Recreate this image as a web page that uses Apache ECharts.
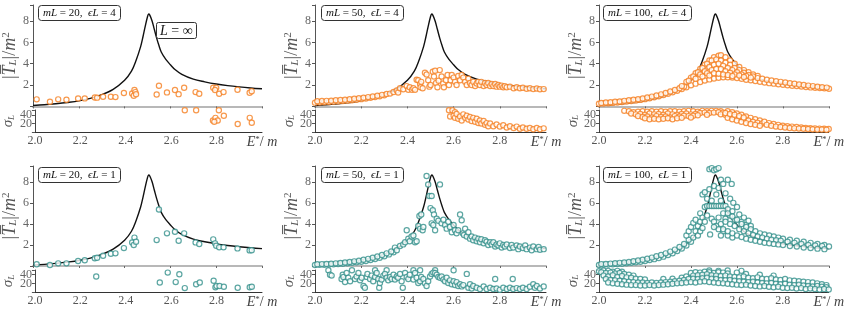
<!DOCTYPE html>
<html><head><meta charset="utf-8">
<script src="https://cdn.jsdelivr.net/npm/echarts/dist/echarts.min.js"></script>
<style>html,body{margin:0;padding:0;background:#fff}#c{width:847px;height:309px}</style>
</head><body><div id="c"></div>
<script>
// ---------- axis settings ----------
const energyMin = 2.0, energyMax = 3.0, energyStep = 0.2;
const meanMin = 0, meanMax = 9.5, meanStep = 2;
const sigmaMin = 0, sigmaMax = 51, sigmaStep = 20;

// ---------- panel labels ----------
const panelML = [20, 50, 100, 20, 50, 100];
const panelEL = [4, 4, 4, 1, 1, 1];

// ---------- L = infinity curve ----------
const infE = [2.00,2.05,2.10,2.15,2.20,2.25,2.30,2.35,2.40,2.43,2.45,2.47,2.48,2.49,2.50,2.505,2.51,2.52,2.53,2.54,2.55,2.56,2.58,2.60,2.62,2.65,2.70,2.75,2.80,2.85,2.90,2.95,3.00];
const infT = [0.08,0.15,0.25,0.37,0.52,0.75,1.1,1.6,2.45,3.3,4.3,5.6,6.5,7.5,8.4,8.65,8.55,8.0,7.2,6.4,5.7,5.1,4.4,3.9,3.45,3.0,2.55,2.3,2.1,1.95,1.83,1.73,1.65];

// ---------- mL=20, eL=4 ----------
const p1Mean = [[2.016,0.66],[2.074,0.44],[2.11,0.66],[2.146,0.62],[2.197,0.75],[2.226,0.75],[2.27,0.84],[2.28,0.82],[2.306,0.9],[2.34,0.9],[2.36,0.87],[2.397,1.25],[2.433,1.22],[2.443,1.53],[2.447,1.34],[2.44,1.0],[2.45,1.15],[2.54,1.12],[2.55,1.94],[2.585,1.31],[2.62,1.53],[2.636,1.15],[2.66,1.75],[2.71,1.34],[2.726,1.19],[2.787,1.75],[2.80,1.75],[2.795,1.53],[2.813,1.19],[2.832,1.34],[2.893,1.56],[2.946,1.28],[2.955,1.42]];
const p1Sigma = [[2.66,50.5],[2.71,50.5],[2.81,50.5],[2.784,27],[2.795,33],[2.805,27],[2.79,24],[2.832,38],[2.893,19],[2.946,33],[2.955,22]];

// ---------- mL=50, eL=4 ----------
const p2Mean = [[2.00,0.35],[2.02,0.37],[2.04,0.39],[2.06,0.41],[2.08,0.44],[2.10,0.47],[2.12,0.5],[2.14,0.54],[2.16,0.58],[2.18,0.63],[2.20,0.68],[2.22,0.74],[2.24,0.8],[2.26,0.87],[2.28,0.95],[2.30,1.04],
[2.01,0.48],[2.03,0.5],[2.05,0.52],[2.07,0.54],[2.09,0.57],[2.11,0.6],[2.13,0.63],[2.15,0.67],[2.17,0.71],[2.19,0.76],[2.21,0.81],[2.23,0.87],[2.25,0.93],[2.27,1.0],[2.29,1.08],[2.31,1.17],
[2.325,1.2],[2.34,1.35],[2.354,1.5],[2.36,1.3],[2.368,1.7],[2.382,1.6],[2.397,1.9],[2.404,1.55],[2.41,1.8],[2.42,1.55],[2.426,1.7],[2.433,1.55],
[2.44,2.5],[2.447,2.45],[2.455,2.1],[2.457,1.8],[2.46,2.3],[2.466,1.7],[2.476,3.15],[2.483,3.0],[2.49,2.45],[2.495,1.85],[2.5,2.0],[2.51,3.25],[2.515,2.8],[2.52,3.35],[2.524,2.2],[2.53,1.8],[2.535,2.4],[2.54,3.4],[2.548,2.8],[2.555,2.15],[2.558,1.8],[2.567,2.45],[2.574,2.95],[2.58,2.0],[2.587,2.45],[2.592,2.95],[2.6,2.7],[2.606,2.3],[2.613,2.0],[2.62,2.85],[2.628,2.45],[2.635,2.95],[2.642,2.7],[2.65,2.3],[2.657,2.0],[2.664,2.6],[2.671,2.2],
[2.678,2.0],[2.685,2.3],[2.693,1.9],[2.7,2.15],[2.707,2.3],[2.714,2.0],[2.72,2.3],[2.73,1.9],[2.736,2.2],[2.743,2.0],[2.75,2.2],[2.758,1.9],[2.765,2.1],[2.772,1.9],[2.78,2.1],[2.786,1.85],[2.794,2.0],[2.8,1.85],[2.808,1.95],[2.815,1.8],[2.822,1.9],[2.83,1.8],[2.844,1.85],[2.86,1.7],[2.873,1.8],[2.887,1.7],[2.9,1.75],[2.916,1.65],[2.93,1.7],[2.945,1.62],[2.96,1.68],[2.974,1.6],[2.99,1.62]];
const p2Sigma = [[2.58,50.5],[2.595,50.5],[2.606,46],[2.585,36],[2.6,38],[2.606,33],[2.613,42],[2.62,31],[2.628,36],[2.635,27],[2.642,41],[2.65,33],[2.657,38],[2.664,29],[2.671,35],[2.678,26],[2.685,33],[2.693,24],[2.7,31],[2.707,21],[2.714,27],[2.72,20],[2.73,26],[2.736,17],[2.743,21],[2.75,14],[2.758,20],[2.772,14],[2.786,18],[2.8,13],[2.815,16],[2.83,11],[2.844,14],[2.86,10],[2.873,13],[2.887,8],[2.9,11],[2.916,8],[2.93,10],[2.945,7],[2.96,10],[2.974,7],[2.99,9]];

// ---------- mL=100, eL=4 ----------
const p3Mean = [[2.00,0.25],[2.02,0.27],[2.04,0.3],[2.06,0.33],[2.08,0.37],[2.10,0.41],[2.12,0.45],[2.14,0.5],[2.16,0.55],[2.18,0.61],[2.20,0.68],[2.22,0.76],[2.24,0.85],[2.26,0.95],[2.28,1.06],[2.30,1.18],[2.32,1.32],[2.34,1.47],[2.36,1.63],[2.38,1.8],[2.40,1.97],[2.42,2.13],[2.44,2.28],[2.46,2.42],[2.48,2.53],[2.50,2.62],[2.52,2.68],[2.54,2.72],[2.56,2.72],[2.58,2.7],[2.60,2.65],[2.62,2.58],[2.64,2.5],[2.66,2.44],[2.68,2.37],[2.70,2.3],[2.72,2.24],[2.74,2.18],[2.76,2.13],[2.78,2.08],[2.80,2.03],[2.82,1.98],[2.84,1.94],[2.86,1.9],[2.88,1.86],[2.90,1.82],[2.92,1.78],[2.94,1.75],[2.96,1.72],[2.98,1.69],[3.00,1.66],
[2.01,0.33],[2.03,0.36],[2.05,0.39],[2.07,0.43],[2.09,0.47],[2.11,0.52],[2.13,0.57],[2.15,0.62],[2.17,0.68],[2.19,0.75],[2.21,0.83],[2.23,0.92],[2.25,1.02],[2.27,1.13],[2.29,1.25],[2.31,1.39],[2.33,1.54],[2.35,1.7],[2.37,1.87],
[2.36,1.9],[2.38,2.3],[2.40,2.7],[2.42,3.1],[2.44,3.5],[2.46,3.9],[2.48,4.3],[2.50,4.6],[2.52,4.75],[2.53,4.8],[2.55,4.6],[2.57,4.3],[2.59,4.0],[2.61,3.7],[2.63,3.4],[2.65,3.2],[2.67,3.0],[2.69,2.85],
[2.39,2.4],[2.41,2.8],[2.43,3.2],[2.45,3.6],[2.47,4.0],[2.49,4.3],[2.51,4.4],[2.53,4.3],[2.55,4.1],[2.57,3.9],[2.59,3.6],[2.61,3.4],[2.63,3.15],[2.65,2.95],[2.67,2.8],[2.69,2.65],
[2.42,2.6],[2.44,3.0],[2.46,3.3],[2.48,3.7],[2.50,3.9],[2.52,4.0],[2.54,3.8],[2.56,3.6],[2.58,3.4],[2.60,3.2],[2.62,3.0],[2.64,2.85],[2.66,2.7],
[2.45,2.8],[2.47,3.1],[2.49,3.4],[2.51,3.5],[2.53,3.5],[2.55,3.3],[2.57,3.15],[2.59,3.0],[2.61,2.9],[2.63,2.75],
[2.48,2.9],[2.50,3.1],[2.52,3.05],[2.54,3.0],[2.56,2.95],[2.58,2.85],
[2.71,2.6],[2.73,2.5],[2.75,2.42],[2.77,2.36],[2.79,2.3],[2.81,2.24],[2.83,2.18],[2.85,2.12],[2.87,2.06],[2.89,2.0],[2.91,1.95],[2.93,1.9],[2.95,1.85],[2.97,1.8],[2.99,1.76]];
const p3Sigma = [[2.11,49],[2.13,48],[2.15,46],[2.17,47],[2.19,48],[2.21,47],[2.23,48],[2.25,47],[2.27,48],[2.29,47],[2.31,48],[2.33,48],[2.35,47],[2.37,48],[2.39,49],[2.41,48],[2.43,47],[2.45,49],[2.47,48],[2.49,49],[2.51,49],[2.53,48],
[2.14,43],[2.16,41],[2.18,42],[2.20,40],[2.22,43],[2.24,41],[2.26,42],[2.28,40],[2.30,43],[2.32,41],[2.34,40],[2.36,42],[2.38,43],[2.40,41],[2.42,42],[2.44,44],[2.46,45],[2.48,44],[2.50,45],[2.52,46],[2.54,45],
[2.17,37],[2.19,35],[2.21,36],[2.23,34],[2.25,37],[2.27,35],[2.29,36],[2.31,34],[2.33,37],[2.35,36],[2.37,38],[2.39,37],[2.41,38],[2.43,39],[2.47,40],[2.53,41],[2.55,40],
[2.20,32],[2.22,30],[2.24,31],[2.26,30],[2.28,31],[2.30,32],[2.32,30],[2.34,32],[2.36,33],[2.40,34],
[2.56,48],[2.58,46],[2.60,43],[2.62,40],[2.64,36],[2.66,33],[2.68,30],[2.70,27],
[2.57,38],[2.59,35],[2.61,33],[2.63,30],[2.65,27],[2.67,24],[2.69,22],[2.71,20],
[2.56,33],[2.58,30],[2.60,27],[2.62,24],[2.64,21],[2.66,19],[2.68,17],[2.70,15],
[2.55,44],[2.57,42],[2.59,40],[2.61,37],[2.63,34],
[2.72,24],[2.74,21],[2.76,19],[2.78,17],[2.80,15],[2.82,14],[2.84,13],[2.86,12],[2.88,11],[2.90,10],[2.92,9.5],[2.94,9],[2.96,8.5],[2.98,8],[3.00,7.5],
[2.73,17],[2.75,15],[2.77,13],[2.79,12],[2.81,11],[2.83,10],[2.85,9],[2.87,8.5],[2.89,8],[2.91,7.5],[2.93,7],[2.95,6.5],[2.97,6.5],[2.99,6]];

// ---------- mL=20, eL=1 ----------
const p4Mean = [[2.016,0.16],[2.074,0.1],[2.11,0.25],[2.146,0.25],[2.197,0.47],[2.226,0.54],[2.27,0.73],[2.28,0.79],[2.306,0.98],[2.34,1.17],[2.36,1.2],[2.397,1.7],[2.433,2.24],[2.443,2.7],[2.44,2.0],[2.45,2.3],[2.54,2.46],[2.55,5.37],[2.585,3.1],[2.62,3.25],[2.636,2.4],[2.66,3.1],[2.71,2.24],[2.726,2.08],[2.787,2.53],[2.795,2.15],[2.80,1.93],[2.813,1.77],[2.832,1.77],[2.893,1.67],[2.946,1.48],[2.955,1.5]];
const p4Sigma = [[2.27,36],[2.55,22],[2.585,45],[2.62,23],[2.636,41],[2.66,9],[2.71,18],[2.726,22],[2.787,26],[2.795,11],[2.80,14],[2.813,14],[2.832,12],[2.893,10],[2.946,11],[2.955,12]];

// ---------- mL=50, eL=1 ----------
const p5Mean = [[2.00,0.1],[2.02,0.11],[2.04,0.12],[2.06,0.14],[2.08,0.16],[2.10,0.19],[2.12,0.22],[2.14,0.26],[2.16,0.3],[2.18,0.35],[2.20,0.41],[2.22,0.48],[2.24,0.57],[2.26,0.67],[2.28,0.79],[2.30,0.93],[2.32,1.1],[2.34,1.3],
[2.01,0.16],[2.03,0.18],[2.05,0.2],[2.07,0.22],[2.09,0.25],[2.11,0.29],[2.13,0.33],[2.15,0.38],[2.17,0.44],[2.19,0.51],[2.21,0.59],[2.23,0.68],[2.25,0.78],[2.27,0.9],[2.29,1.04],[2.31,1.2],[2.33,1.38],
[2.346,1.75],[2.354,1.5],[2.368,1.9],[2.382,2.05],[2.39,2.25],[2.397,3.4],[2.404,2.6],[2.41,2.35],[2.418,2.8],[2.426,2.9],[2.433,2.25],[2.44,2.35],[2.447,3.8],[2.455,3.55],[2.452,4.75],[2.46,4.9],[2.466,3.4],[2.469,3.7],[2.483,8.55],[2.49,7.75],[2.495,6.65],[2.505,6.65],[2.5,5.5],[2.51,5.3],[2.505,4.05],[2.512,3.9],[2.52,3.4],[2.515,4.9],[2.527,4.5],[2.534,4.3],[2.541,7.75],[2.548,4.05],[2.556,4.4],[2.563,3.9],[2.57,3.55],[2.577,4.2],[2.584,3.7],[2.592,3.2],[2.6,3.9],[2.606,3.4],[2.613,3.1],[2.62,3.4],[2.628,4.9],[2.635,4.35],[2.64,3.1],[2.645,2.95],[2.65,3.55],[2.657,2.8],[2.664,3.2],[2.671,2.6],
[2.678,2.8],[2.685,2.45],[2.693,2.7],[2.7,2.35],[2.707,2.6],[2.714,2.25],[2.72,2.55],[2.73,2.15],[2.736,2.45],[2.743,2.3],[2.75,2.0],[2.758,2.25],[2.765,2.05],[2.772,2.25],[2.78,1.85],[2.786,2.05],[2.794,1.95],[2.8,2.15],[2.808,1.75],[2.815,2.0],[2.822,1.85],[2.83,2.05],[2.844,1.7],[2.851,2.0],[2.858,1.75],[2.873,1.95],[2.88,1.6],[2.887,1.85],[2.9,1.7],[2.91,1.95],[2.916,1.6],[2.93,1.75],[2.938,1.5],[2.945,1.85],[2.96,1.6],[2.968,1.8],[2.974,1.55],[2.99,1.6]];
const p5Sigma = [[2.058,50.5],[2.16,50.5],[2.26,50.5],[2.31,50.5],[2.426,50.5],[2.455,50.5],[2.52,50.5],[2.6,50.5],
[2.065,40],[2.072,38],[2.115,30],[2.12,40],[2.123,35],[2.13,23],[2.137,44],[2.144,33],[2.152,25],[2.173,30],[2.18,36],[2.188,44],[2.195,27],[2.202,33],[2.21,14],[2.216,10],[2.224,35],[2.227,42],[2.238,30],[2.245,38],[2.252,25],[2.26,35],[2.267,44],[2.274,30],[2.278,10],[2.281,21],[2.288,29],[2.296,38],[2.303,42],[2.31,33],[2.317,27],[2.325,35],[2.332,30],[2.34,40],[2.346,29],[2.354,36],[2.36,33],[2.368,42],[2.375,25],[2.38,10],[2.39,44],[2.397,35],[2.404,30],[2.41,40],[2.426,29],[2.433,44],[2.44,33],[2.447,21],[2.455,25],[2.46,35],[2.469,30],[2.476,20],[2.483,14],[2.49,25],[2.498,36],[2.505,42],[2.512,45],[2.52,44],[2.527,40],[2.534,35],[2.541,33],[2.548,36],[2.556,29],[2.563,25],[2.57,33],[2.577,21],[2.584,27],[2.592,18],[2.6,25],[2.606,16],[2.613,23],[2.62,14],[2.628,18],[2.635,13],[2.642,16],[2.657,42],[2.664,10],[2.671,18],[2.678,8],[2.685,14],[2.7,10],[2.714,7],[2.73,13],[2.743,7],[2.758,10],[2.772,7],[2.78,30],[2.786,8],[2.8,5],[2.815,10],[2.83,7],[2.844,10],[2.856,30],[2.858,7],[2.873,9],[2.887,7],[2.9,10],[2.916,7],[2.93,12],[2.945,18],[2.952,10],[2.96,14],[2.974,8],[2.99,13]];

// ---------- mL=100, eL=1 ----------
const p6Mean = [[2.00,0.1],[2.02,0.12],[2.04,0.14],[2.06,0.16],[2.08,0.19],[2.10,0.22],[2.12,0.26],[2.14,0.3],[2.16,0.35],[2.18,0.41],[2.20,0.48],[2.22,0.56],[2.24,0.65],[2.26,0.76],[2.28,0.89],[2.30,1.04],[2.32,1.21],[2.34,1.42],[2.36,1.66],[2.38,1.95],[2.40,2.3],
[2.01,0.18],[2.03,0.2],[2.05,0.23],[2.07,0.26],[2.09,0.3],[2.11,0.34],[2.13,0.39],[2.15,0.45],[2.17,0.52],[2.19,0.6],[2.21,0.69],[2.23,0.8],[2.25,0.92],[2.27,1.05],[2.29,1.2],[2.31,1.37],[2.33,1.56],[2.35,1.8],[2.37,2.1],[2.39,2.5],
[2.38,2.9],[2.39,3.3],[2.40,3.7],[2.41,2.7],[2.41,4.1],[2.42,3.3],[2.42,4.4],[2.43,2.9],[2.43,3.8],[2.44,5.0],[2.44,4.2],[2.44,3.3],[2.45,4.6],[2.45,3.6],[2.45,6.8],[2.46,7.0],[2.46,5.6],[2.46,4.2],[2.47,6.4],[2.47,4.8],[2.47,5.7],[2.48,9.2],[2.48,7.3],[2.48,5.7],[2.483,3.0],[2.49,9.3],[2.49,6.2],[2.49,5.7],[2.49,4.5],[2.50,9.1],[2.50,7.6],[2.50,5.7],[2.50,4.2],[2.51,9.2],[2.51,6.8],[2.51,5.7],[2.51,3.8],[2.52,9.3],[2.52,7.4],[2.52,5.7],[2.52,4.6],[2.53,8.2],[2.53,6.2],[2.53,5.7],[2.53,4.0],[2.54,7.8],[2.54,5.0],[2.54,5.7],[2.55,6.9],[2.55,5.7],[2.55,4.5],[2.56,8.2],[2.56,5.4],[2.57,6.4],[2.57,4.8],[2.577,7.8],[2.584,6.0],[2.58,5.2],[2.59,4.4],[2.60,5.6],[2.61,4.9],[2.62,4.2],[2.63,4.6],[2.64,3.9],[2.65,4.3],[2.66,3.8],[2.54,3.3],[2.52,3.5],[2.50,3.7],[2.53,2.9],[2.56,2.9],[2.58,2.7],
[2.56,5.0],[2.58,4.7],[2.60,4.4],[2.62,4.0],[2.64,3.7],[2.66,3.5],[2.68,3.3],[2.70,3.1],[2.72,3.0],[2.74,2.9],[2.76,2.8],[2.78,2.7],[2.80,2.6],[2.83,2.5],[2.86,2.4],[2.89,2.3],[2.92,2.2],[2.95,2.1],[2.98,2.0],
[2.55,4.2],[2.57,4.0],[2.59,3.8],[2.61,3.5],[2.63,3.3],[2.65,3.1],[2.67,2.95],[2.69,2.8],[2.71,2.7],[2.73,2.6],[2.75,2.5],[2.77,2.45],[2.79,2.4],[2.82,2.3],[2.85,2.2],[2.88,2.1],[2.91,2.0],[2.94,1.95],[2.97,1.9],[3.00,1.85],
[2.54,3.5],[2.56,3.3],[2.58,3.1],[2.60,2.9],[2.62,2.75],[2.64,2.6],[2.66,2.5],[2.68,2.4],[2.70,2.3],[2.72,2.2],[2.74,2.15],[2.76,2.1],[2.78,2.05],[2.80,2.0],[2.83,1.9],[2.86,1.85],[2.89,1.75],[2.92,1.7],[2.95,1.65],[2.98,1.6]];
const p6Sigma = [[2.00,48],[2.02,50],[2.04,49],[2.06,47],[2.08,49],[2.10,47],[2.48,50],[2.52,49],[2.56,50],[2.62,49],
[2.01,46],[2.03,44],[2.05,45],[2.07,43],[2.09,44],[2.11,42],[2.13,40],[2.15,38],[2.40,44],[2.42,46],[2.44,45],[2.46,47],[2.48,46],[2.50,44],[2.52,46],[2.54,45],[2.56,43],[2.60,45],[2.64,42],[2.70,40],[2.76,38],
[2.02,38],[2.04,36],[2.06,39],[2.08,35],[2.10,37],[2.12,34],[2.14,33],[2.16,31],[2.18,30],[2.20,29],[2.28,30],[2.32,31],[2.36,33],[2.38,36],[2.41,38],[2.43,39],[2.45,40],[2.47,41],[2.49,39],[2.51,38],[2.53,37],[2.55,38],[2.57,36],[2.59,35],[2.61,34],[2.63,36],[2.65,33],[2.67,32],[2.69,34],[2.71,31],[2.73,30],[2.75,32],[2.77,29],[2.79,28],[2.81,30],[2.83,27],[2.85,26],[2.87,25],[2.89,24],[2.91,23],[2.93,22],[2.95,20],[2.97,18],[2.99,16],
[2.03,30],[2.05,28],[2.07,27],[2.09,26],[2.11,25],[2.13,24],[2.15,23],[2.17,22],[2.19,22],[2.21,21],[2.23,22],[2.25,21],[2.27,22],[2.29,23],[2.31,24],[2.33,25],[2.35,26],[2.37,28],[2.39,30],[2.41,31],[2.43,30],[2.45,32],[2.47,33],[2.49,31],[2.51,30],[2.53,28],[2.55,27],[2.57,28],[2.59,26],[2.61,25],[2.63,24],[2.65,23],[2.67,24],[2.69,22],[2.71,21],[2.73,20],[2.75,21],[2.77,19],[2.79,18],[2.81,19],[2.83,17],[2.85,16],[2.87,17],[2.89,15],[2.91,14],[2.93,13],[2.95,14],[2.97,12],[2.99,11],
[2.04,22],[2.06,20],[2.08,19],[2.10,18],[2.12,17],[2.14,16],[2.16,16],[2.18,15],[2.20,15],[2.22,16],[2.24,15],[2.26,16],[2.28,17],[2.30,18],[2.32,19],[2.34,20],[2.36,21],[2.38,22],[2.40,23],[2.42,22],[2.44,24],[2.46,25],[2.48,23],[2.50,22],[2.52,21],[2.54,20],[2.56,19],[2.58,18],[2.60,17],[2.62,16],[2.64,17],[2.66,15],[2.68,14],[2.70,13],[2.72,14],[2.74,12],[2.76,11],[2.78,12],[2.80,10],[2.82,9],[2.84,10],[2.86,8],[2.88,9],[2.90,7],[2.92,8],[2.94,7],[2.96,6],[2.98,7],[3.00,6]];

// ---------- build chart ----------
const ORANGE = '#f57e1f', TEAL = '#33908b';
const panelMean = [p1Mean, p2Mean, p3Mean, p4Mean, p5Mean, p6Mean];
const panelSigma = [p1Sigma, p2Sigma, p3Sigma, p4Sigma, p5Sigma, p6Sigma];
const panelColor = [ORANGE, ORANGE, ORANGE, TEAL, TEAL, TEAL];

const cols = [{left:33, width:229}, {left:315, width:231}, {left:599, width:230}];
const rows = [{mt:5, mh:101.4, st:110, sh:22.3}, {mt:166, mh:100, st:270, sh:23}];
const boxLeft = [38, 321, 603];
const boxTop = [5, 167];
const SERIF = '"Liberation Serif", "DejaVu Serif", serif';
const infCurve = infE.map((e, k) => [e, infT[k]]);

const grid = [], xAxis = [], yAxis = [], series = [], title = [];
for (let i = 0; i < 6; i++) {
  const r = Math.floor(i / 3), c = i % 3;
  grid.push({left: cols[c].left, top: rows[r].mt, width: cols[c].width, height: rows[r].mh});
  grid.push({left: cols[c].left, top: rows[r].st, width: cols[c].width, height: rows[r].sh});
  const baseX = {type: 'value', min: energyMin, max: energyMax, interval: energyStep, splitLine: {show: false}};
  xAxis.push(Object.assign({}, baseX, {gridIndex: 2*i,
    axisLine: {show: true, onZero: false, lineStyle: {color: '#b8b8b8', width: 2}},
    axisTick: {show: true, length: 2, lineStyle: {color: '#666'}}, axisLabel: {show: false}}));
  xAxis.push(Object.assign({}, baseX, {gridIndex: 2*i+1,
    axisLine: {show: true, onZero: false, lineStyle: {color: '#333', width: 1}},
    axisTick: {show: false},
    axisLabel: {margin: 3, color: '#555', fontFamily: SERIF, fontSize: 12,
      formatter: v => v > 2.95 ? '{e|E}{s|*}{n|/ }{e|m}' : v.toFixed(1),
      rich: {e: {fontStyle: 'italic', fontFamily: SERIF, fontSize: 14, color: '#444'},
             s: {fontFamily: SERIF, fontSize: 9, color: '#444', verticalAlign: 'top'},
             n: {fontFamily: SERIF, fontSize: 14, color: '#444'}}}}));
  yAxis.push({gridIndex: 2*i, type: 'value', min: meanMin, max: meanMax, interval: meanStep,
    splitLine: {show: false},
    axisLine: {show: true, lineStyle: {color: '#555', width: 1}},
    axisTick: {show: true, length: 3, lineStyle: {color: '#555'}},
    axisLabel: {margin: 4, color: '#666', fontFamily: SERIF, fontSize: 12, formatter: v => (v === 0 || v > 9) ? '' : String(v)},
    name: '|{t|T\u0305}{b|L}|/{t|m}{p|2}', nameLocation: 'middle', nameRotate: 90, nameGap: 11,
    nameTextStyle: {fontFamily: SERIF, fontSize: 18, color: '#555',
      rich: {t: {fontFamily: SERIF, fontStyle: 'italic', fontSize: 18, color: '#555'},
             b: {fontFamily: SERIF, fontStyle: 'italic', fontSize: 11, color: '#555', verticalAlign: 'bottom'},
             p: {fontFamily: SERIF, fontSize: 11, color: '#555', verticalAlign: 'top'}}}});
  yAxis.push({gridIndex: 2*i+1, type: 'value', min: sigmaMin, max: sigmaMax, interval: sigmaStep,
    splitLine: {show: false},
    axisLine: {show: true, lineStyle: {color: '#444', width: 1}},
    axisTick: {show: true, length: 3, lineStyle: {color: '#555'}},
    axisLabel: {margin: 3, color: '#666', fontFamily: SERIF, fontSize: 12, formatter: v => (v === 20 || v === 40) ? String(v) : ''},
    name: '{g|σ}{b|L}', nameLocation: 'middle', nameRotate: 90, nameGap: 16,
    nameTextStyle: {fontFamily: SERIF, fontSize: 14, color: '#555',
      rich: {g: {fontFamily: SERIF, fontStyle: 'italic', fontSize: 15, color: '#555'},
             b: {fontFamily: SERIF, fontStyle: 'italic', fontSize: 9, color: '#555', verticalAlign: 'bottom'}}}});
  series.push({type: 'line', xAxisIndex: 2*i, yAxisIndex: 2*i, data: infCurve, showSymbol: false, smooth: 0.35,
    lineStyle: {color: '#111', width: 1.4}, z: 2, silent: true});
  const sym = {type: 'scatter', symbol: 'circle', symbolSize: 5.2, z: 3,
    itemStyle: {color: '#fff', borderColor: panelColor[i], borderWidth: 1.2}};
  series.push(Object.assign({}, sym, {xAxisIndex: 2*i, yAxisIndex: 2*i, data: panelMean[i]}));
  series.push(Object.assign({}, sym, {xAxisIndex: 2*i+1, yAxisIndex: 2*i+1, data: panelSigma[i]}));
  title.push({left: boxLeft[c], top: boxTop[r],
    text: '{i|mL} = ' + panelML[i] + ',  {i|ϵL} = ' + panelEL[i],
    padding: [3, 5, 2, 5], borderColor: '#333', borderWidth: 1, borderRadius: 3, backgroundColor: '#fff',
    textStyle: {fontFamily: SERIF, fontSize: 11, fontWeight: 'normal', color: '#111',
      rich: {i: {fontFamily: SERIF, fontStyle: 'italic', fontSize: 11, color: '#111'}}}});
}
title.push({left: 156, top: 22, text: '{i|L} = ∞', padding: [2, 4, 1, 4],
  borderColor: '#333', borderWidth: 1, borderRadius: 2, backgroundColor: '#fff',
  textStyle: {fontFamily: SERIF, fontSize: 14, fontWeight: 'normal', color: '#111',
    rich: {i: {fontFamily: SERIF, fontStyle: 'italic', fontSize: 14, color: '#111'}}}});

const chart = echarts.init(document.getElementById('c'), null, {renderer: 'canvas'});
chart.setOption({animation: false, backgroundColor: '#fff', title, grid, xAxis, yAxis, series});
</script>
</body></html>
